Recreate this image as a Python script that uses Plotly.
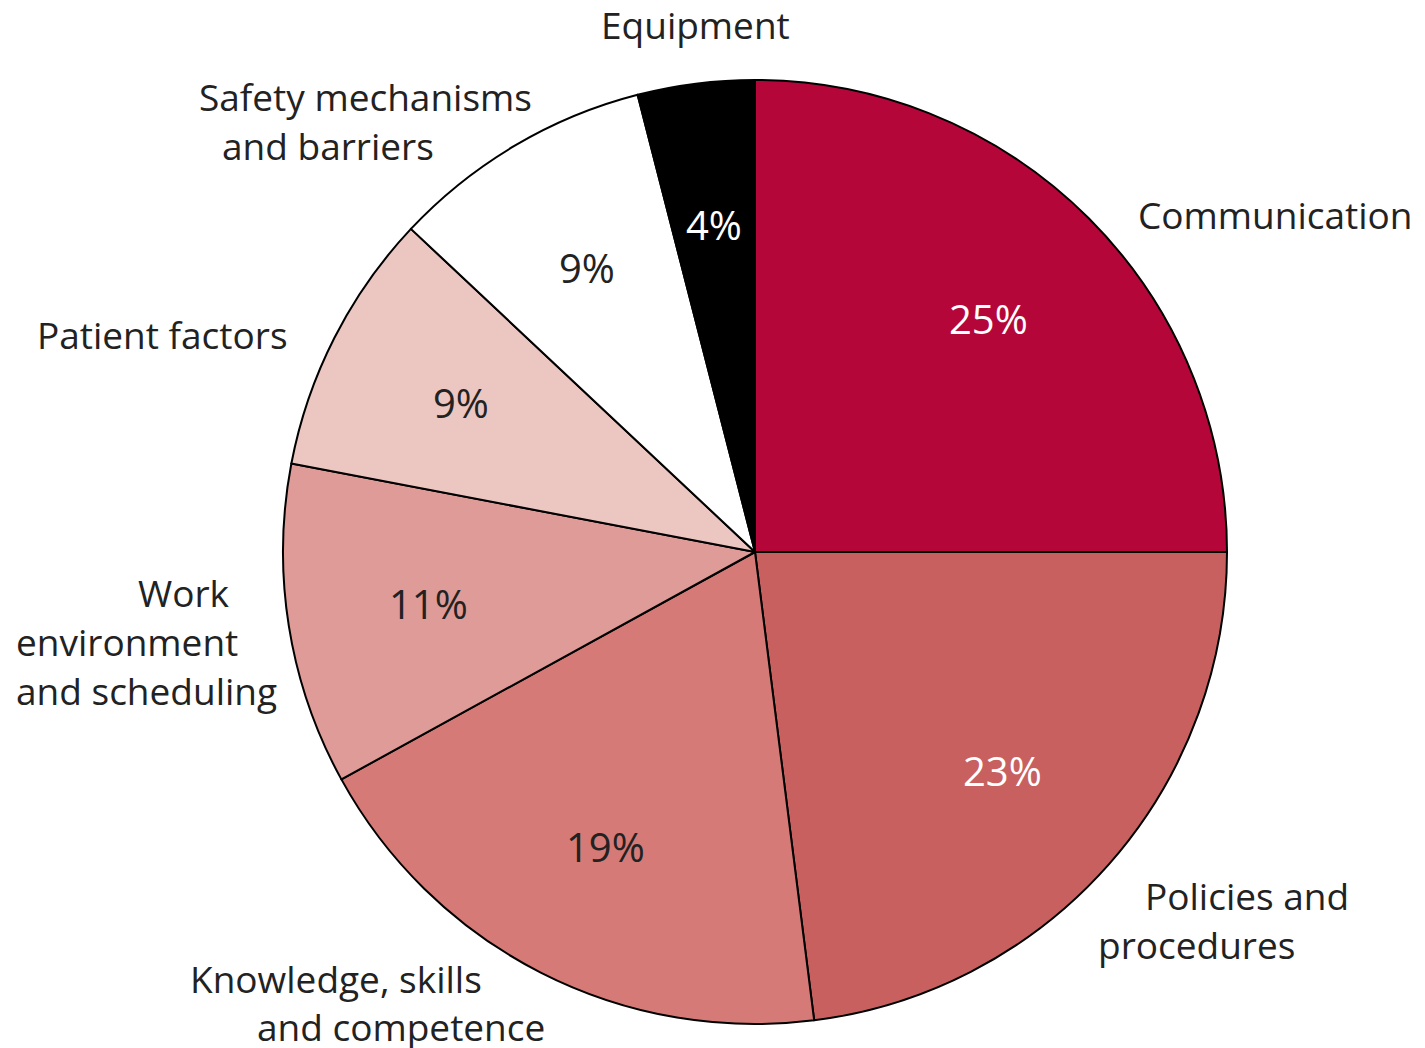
import math
import plotly.graph_objects as go

categories = ["Communication", "Policies and procedures", "Knowledge, skills and competence",
              "Work environment and scheduling", "Patient factors",
              "Safety mechanisms and barriers", "Equipment"]
values = [25, 23, 19, 11, 9, 9, 4]
colors = ["#B5063A", "#C86060", "#D57A76", "#DF9B97", "#ECC6C1", "#FFFFFF", "#000000"]
pct_colors = ["white", "white", "#222222", "#222222", "#222222", "#222222", "white"]

W, H = 1425, 1048
OFF = 8  # page body margin compensation
CX, CY, R = 755 - OFF, 552 - OFF, 472

fig = go.Figure(go.Pie(
    labels=categories, values=values, sort=False, direction="clockwise", rotation=0,
    marker=dict(colors=colors, line=dict(color="black", width=2)),
    textinfo="none", hoverinfo="label+percent", showlegend=False,
    domain=dict(x=[(CX - R) / W, (CX + R) / W], y=[1 - (CY + R) / H, 1 - (CY - R) / H]),
))

annotations = []
total = sum(values)
cum = 0
for v, c in zip(values, pct_colors):
    mid = (cum + v / 2) / total * 2 * math.pi
    cum += v
    px = CX + 0.70 * R * math.sin(mid)
    py = CY - 0.70 * R * math.cos(mid)
    annotations.append(dict(x=px / W, y=1 - py / H, xref="paper", yref="paper",
                            text=f"{v}%", showarrow=False, xanchor="center", yanchor="middle",
                            font=dict(size=40, color=c, family="Open Sans")))

# outside label lines: (text, x px, y px, anchor)
label_lines = [
    ("Equipment", 695, 25, "center"),
    ("Safety mechanisms", 197, 96, "left"),
    ("and barriers", 220, 145, "left"),
    ("Communication", 1136, 214, "left"),
    ("Patient factors", 35, 334, "left"),
    ("Work", 232, 592, "right"),
    ("environment", 14, 641, "left"),
    ("and scheduling", 14, 690, "left"),
    ("Knowledge, skills", 188, 978, "left"),
    ("and competence", 255, 1026, "left"),
    ("Policies and", 1143, 895, "left"),
    ("procedures", 1096, 944, "left"),
]
for t, x, y, a in label_lines:
    annotations.append(dict(x=(x - OFF) / W, y=1 - (y - OFF) / H, xref="paper", yref="paper", text=t,
                            showarrow=False, xanchor=a, yanchor="middle",
                            font=dict(size=37, color="#222222", family="Open Sans")))

fig.update_layout(width=W, height=H, margin=dict(l=0, r=0, t=0, b=0),
                  paper_bgcolor="white", plot_bgcolor="white", annotations=annotations)
fig.write_html("out.html")
